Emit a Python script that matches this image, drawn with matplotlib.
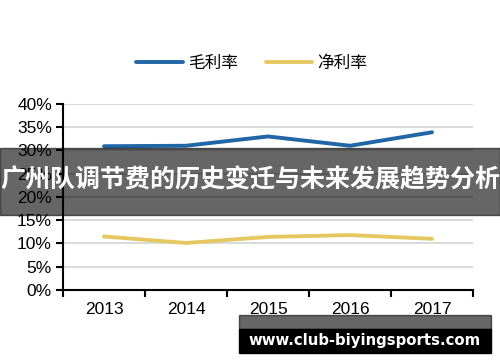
import numpy as np
import matplotlib
matplotlib.use("Agg")
import matplotlib.pyplot as plt
from matplotlib.patches import Rectangle

plt.rcParams['font.family'] = ['Liberation Sans', 'Noto Sans CJK SC', 'DejaVu Sans']

# data
years = ['2013', '2014', '2015', '2016', '2017']
gross_margin = [0.309, 0.310, 0.330, 0.310, 0.339]
net_margin = [0.115, 0.101, 0.114, 0.118, 0.110]
series_names = ['毛利率', '净利率']
y_ticks = [0, 0.05, 0.10, 0.15, 0.20, 0.25, 0.30, 0.35, 0.40]

fig = plt.figure(figsize=(5, 3.62), dpi=100)
ax = fig.add_axes([0.126, 0.199, 0.82, 0.514])

x = np.arange(len(years))
ax.plot(x, gross_margin, color='#2166a6', lw=2.8, solid_capstyle='round', label=series_names[0])
ax.plot(x, net_margin, color='#e6c862', lw=2.8, solid_capstyle='round', label=series_names[1])

ax.set_xlim(-0.5, len(years) - 0.5)
ax.set_ylim(0, 0.4)
ax.set_yticks(y_ticks)
ax.set_yticklabels([f'{int(round(v * 100))}%' for v in y_ticks], fontsize=12.5)
ax.set_xticks(x)
ax.set_xticklabels(years, fontsize=12.5)
ax.set_xticks(np.arange(-0.5, len(years)), minor=True)
ax.tick_params(axis='x', which='major', length=0, pad=9)
ax.tick_params(axis='x', which='minor', length=5, width=1.5, direction='out')
ax.tick_params(axis='y', length=5, width=1.5, direction='out', pad=3)

ax.grid(axis='y', color='#d4d4d4', lw=1.2)
ax.set_axisbelow(True)
for s in ['top', 'right']:
    ax.spines[s].set_visible(False)
for s in ['left', 'bottom']:
    ax.spines[s].set_linewidth(1.5)

leg = ax.legend(loc='lower center', bbox_to_anchor=(0.46, 1.09), ncol=2, frameon=False,
                handlelength=2.8, columnspacing=1.7, handletextpad=0.3,
                prop={'family': ['Noto Sans CJK SC'], 'size': 12})

# dark banner with title over the chart
fig.patches.append(Rectangle((0, 0.406), 1, 0.185, transform=fig.transFigure,
                             color='black', alpha=0.6, zorder=5))
fig.text(0.5, 0.503, '广州队调节费的历史变迁与未来发展趋势分析', color='white',
         fontsize=18, fontweight='bold', ha='center', va='center',
         family=['Noto Sans CJK SC'], zorder=6)

# site watermark box
fig.patches.append(Rectangle((0.478, 0.0912), 0.504, 0.0387, transform=fig.transFigure,
                             color='black', alpha=0.6, zorder=5))
fig.patches.append(Rectangle((0.478, 0.0249), 0.504, 0.0663, transform=fig.transFigure,
                             color='black', zorder=5))
fig.text(0.73, 0.06, 'www.club-biyingsports.com', color='white', fontsize=10.7,
         fontweight='bold', ha='center', va='center', family=['DejaVu Sans'], zorder=6)

fig.savefig('out.png', dpi=100)
